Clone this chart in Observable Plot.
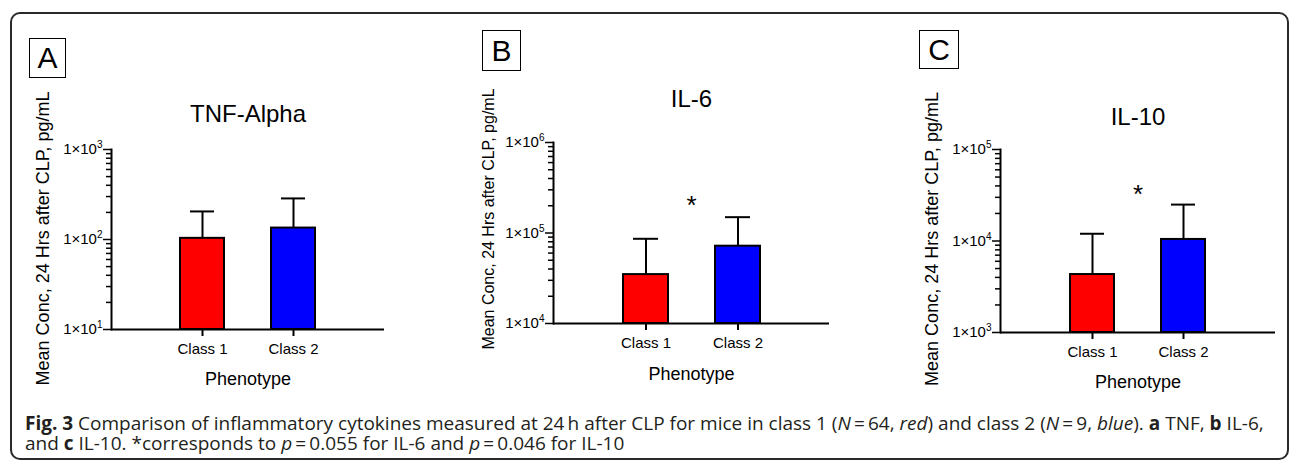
<!DOCTYPE html>
<html>
<head>
<meta charset="utf-8">
<script src="https://cdn.jsdelivr.net/npm/d3@7"></script>
<script src="https://cdn.jsdelivr.net/npm/@observablehq/plot@0.6"></script>
<style>
  body { margin: 0; background: #fff; }
  #root { position: relative; width: 1290px; height: 461px; overflow: hidden; font-family: "Liberation Sans", Arial, sans-serif; }
  .border { position: absolute; left: 10px; top: 12px; width: 1279px; height: 448px; border: 2px solid #2a2a2a; border-radius: 10px; box-sizing: border-box; pointer-events: none; z-index: 2; }
  .panel { position: absolute; top: 0; width: 430px; height: 400px; z-index: 1; }
  .letter { position: absolute; border: 1.5px solid #000; box-sizing: border-box; font-size: 30px; line-height: 1; display: flex; align-items: center; justify-content: center; color: #000; z-index: 3; }
  #caption { position: absolute; left: 25px; top: 413px; font-family: "Open Sans", sans-serif; font-size: 19px; line-height: 20px; color: #231f20; white-space: nowrap; z-index: 3; }
</style>
</head>
<body>
<div id="root">
  <div class="border"></div>
  <div id="caption"><b>Fig. 3</b> Comparison of inflammatory cytokines measured at 24&#8201;h after CLP for mice in class 1 (<i>N</i>&#8201;=&#8201;64, <i>red</i>) and class 2 (<i>N</i>&#8201;=&#8201;9, <i>blue</i>). <b>a</b> TNF, <b>b</b> IL-6,<br>and <b>c</b> IL-10. *corresponds to <i>p</i>&#8201;=&#8201;0.055 for IL-6 and <i>p</i>&#8201;=&#8201;0.046 for IL-10</div>
</div>
<script>
// ---- data ----
const panelLetters = ["A", "B", "C"];
const titles = ["TNF-Alpha", "IL-6", "IL-10"];
const categories = ["Class 1", "Class 2"];
const classColors = ["#ff0000", "#0000ff"];
const yLabel = "Mean Conc, 24 Hrs after CLP, pg/mL";
const xLabel = "Phenotype";

const tnfMean = [103, 134];
const tnfUpper = [205, 286];
const il6Mean = [34700, 71500];
const il6Upper = [86300, 149600];
const il10Mean = [4300, 10400];
const il10Upper = [12000, 25000];

const yDomains = [[1e1, 1e3], [1e4, 1e6], [1e3, 1e5]];
const starValues = [null, 2.0e5, 3.2e4];

const means = [tnfMean, il6Mean, il10Mean];
const uppers = [tnfUpper, il6Upper, il10Upper];

// ---- layout (positions / styles) ----
const layout = [
  {left: 0,   mL: 111, mR: 46, mT: 149, mB: 71, titleDy: -35, yLabDx: -68, yLabDy: -1,  yLabSize: 18, xLabDy: 50,
   box: {x: 29, y: 38, w: 37, h: 40}},
  {left: 430, mL: 123, mR: 31, mT: 142, mB: 77, titleDy: -43, yLabDx: -65, yLabDy: -14, yLabSize: 16, xLabDy: 51,
   box: {x: 482, y: 30, w: 39, h: 41}},
  {left: 860, mL: 140, mR: 15, mT: 149, mB: 68, titleDy: -32, yLabDx: -68, yLabDy: -2,  yLabSize: 18, xLabDy: 50,
   box: {x: 919, y: 30, w: 40, h: 39}}
];

const root = document.getElementById("root");

function makePanel(i) {
  const L = layout[i];
  const rows = categories.map((c, j) => ({cat: c, mean: means[i][j], upper: uppers[i][j]}));
  const [lo, hi] = yDomains[i];
  const allTicks = d3.scaleLog().domain([lo, hi]).ticks();
  const isMajor = v => Math.abs(Math.log10(v) - Math.round(Math.log10(v))) < 1e-9;
  const major = allTicks.filter(isMajor);
  const minor = allTicks.filter(v => !isMajor(v));

  const marks = [
    Plot.barY(rows, {x: "cat", y1: lo, y2: "mean", fill: "cat", stroke: "black", strokeWidth: 2}),
    Plot.ruleX(rows, {x: "cat", y1: "mean", y2: "upper", stroke: "black", strokeWidth: 2}),
    Plot.tickY(rows, {x: "cat", y: "upper", stroke: "black", strokeWidth: 2, insetLeft: 10, insetRight: 10}),
    Plot.axisY(minor, {tickSize: 5, tickFormat: () => "", strokeWidth: 1.5, label: null}),
    Plot.axisY(major, {tickSize: 8, tickPadding: 1, strokeWidth: 1.5, fontSize: 15,
      tickFormat: v => "1×10^" + Math.round(Math.log10(v)), label: null}),
    Plot.axisX({tickSize: 7, tickPadding: 7, strokeWidth: 2, fontSize: 15, label: null}),
    Plot.frame({anchor: "left", strokeWidth: 2}),
    Plot.ruleY([lo], {stroke: "black", strokeWidth: 2}),
    Plot.text([titles[i]], {text: d => d, frameAnchor: "top", lineAnchor: "middle", textAnchor: "middle", dy: L.titleDy, fontSize: 24}),
    Plot.text([yLabel], {text: d => d, frameAnchor: "left", lineAnchor: "middle", textAnchor: "middle", rotate: -90, dx: L.yLabDx, dy: L.yLabDy, fontSize: L.yLabSize}),
    Plot.text([xLabel], {text: d => d, frameAnchor: "bottom", lineAnchor: "middle", textAnchor: "middle", dy: L.xLabDy, fontSize: 18})
  ];
  if (starValues[i] != null) {
    marks.push(Plot.text([starValues[i]], {y: d => d, text: () => "*", fontSize: 26}));
  }

  const svg = Plot.plot({
    width: 430,
    height: 400,
    marginLeft: L.mL,
    marginRight: L.mR,
    marginTop: L.mT,
    marginBottom: L.mB,
    style: {fontFamily: '"Liberation Sans", Arial, sans-serif', background: "transparent", overflow: "visible", color: "#000"},
    x: {domain: categories, paddingInner: 0.516, paddingOuter: 0.758},
    y: {type: "log", domain: [lo, hi]},
    color: {domain: categories, range: classColors},
    marks
  });

  // superscript exponents on the log-axis tick labels
  d3.select(svg).selectAll("text").each(function () {
    const m = /^1×10\^(\d+)$/.exec(this.textContent);
    if (m) {
      const t = d3.select(this);
      t.text(null).attr("font-size", "15px");
      t.append("tspan").attr("font-size", "15px").text("1×10");
      t.append("tspan").attr("dy", "-6").attr("font-size", "10px").text(m[1]);
    }
  });

  const div = document.createElement("div");
  div.className = "panel";
  div.style.left = L.left + "px";
  div.appendChild(svg);
  root.appendChild(div);

  const box = document.createElement("div");
  box.className = "letter";
  box.style.left = L.box.x + "px";
  box.style.top = L.box.y + "px";
  box.style.width = L.box.w + "px";
  box.style.height = L.box.h + "px";
  box.textContent = panelLetters[i];
  root.appendChild(box);
}

for (let i = 0; i < 3; i++) makePanel(i);
</script>
</body>
</html>
